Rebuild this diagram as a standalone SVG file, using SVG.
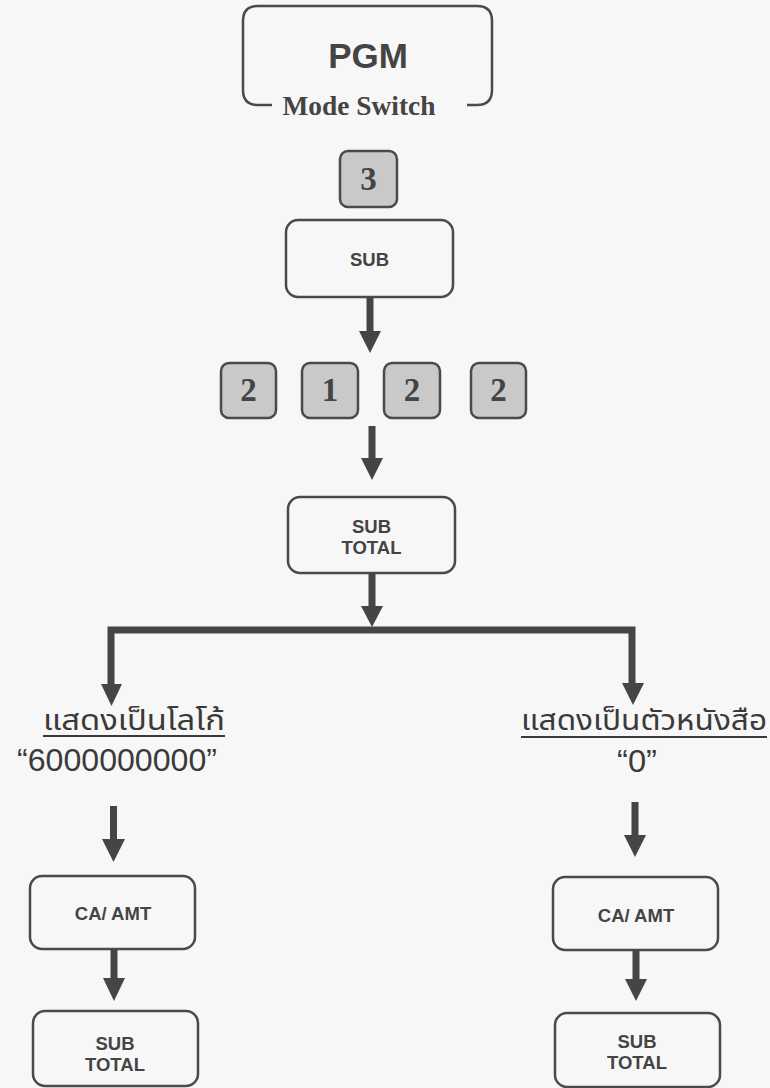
<svg xmlns="http://www.w3.org/2000/svg" width="770" height="1088" viewBox="0 0 770 1088">
<style>
.box{fill:none;stroke:#4a4a4a;stroke-width:2.5}
.key{fill:#c9c9c9;stroke:#4a4a4a;stroke-width:2.5}
.lbl{font-family:"Liberation Sans",Arial,sans-serif;font-weight:bold;font-size:18.5px;fill:#444;text-anchor:middle}
.dig{font-family:"Liberation Serif","Times New Roman",serif;font-weight:bold;font-size:33px;fill:#444;text-anchor:middle}
.shaft{stroke:#454545;stroke-width:7;fill:none}
.head{fill:#454545}
.th{font-family:"Noto Sans Thai","Noto Sans","DejaVu Sans",sans-serif;font-size:28.5px;fill:#3a3a3a}
.q{font-family:"Liberation Sans",Arial,sans-serif;font-size:32px;fill:#3a3a3a}
.ul{stroke:#3a3a3a;stroke-width:2}
</style>
<rect width="770" height="1088" fill="#f7f7f7"/>
<g id="pgm">
<path class="box" d="M272,105 L258,105 Q243,105 243,90 L243,21 Q243,6 258,6 L477,6 Q492,6 492,21 L492,90 Q492,105 477,105 L467,105"/>
<text x="368" y="68" font-family="Liberation Sans,Arial,sans-serif" font-weight="bold" font-size="35" fill="#444" text-anchor="middle">PGM</text>
<text x="359" y="115" font-family="Liberation Serif,Times New Roman,serif" font-weight="bold" font-size="27" fill="#444" text-anchor="middle" textLength="153" lengthAdjust="spacingAndGlyphs">Mode Switch</text>
</g>
<g id="key3"><rect class="key" x="340" y="151" width="57" height="56" rx="8"/><text class="dig" x="368.5" y="190">3</text></g>
<g id="sub"><rect class="box" x="286" y="220" width="167" height="77" rx="12"/><text class="lbl" x="369.5" y="266">SUB</text></g>
<g id="key2a"><rect class="key" x="221" y="363" width="55" height="55" rx="8"/><text class="dig" x="248.5" y="401">2</text></g>
<g id="key1"><rect class="key" x="302" y="363" width="56" height="55" rx="8"/><text class="dig" x="330" y="401">1</text></g>
<g id="key2b"><rect class="key" x="384" y="363" width="56" height="55" rx="8"/><text class="dig" x="412" y="401">2</text></g>
<g id="key2c"><rect class="key" x="471" y="363" width="55" height="55" rx="8"/><text class="dig" x="498.5" y="401">2</text></g>
<g id="subtotal"><rect class="box" x="288" y="497" width="167" height="76" rx="12"/><text class="lbl" x="371.5" y="533">SUB</text><text class="lbl" x="371.5" y="554">TOTAL</text></g>
<g id="logo">
<text class="th" x="43" y="730" textLength="182" lengthAdjust="spacingAndGlyphs">แสดงเป็นโลโก้</text>
<line class="ul" x1="43" y1="736" x2="225" y2="736"/>
<text class="q" x="117" y="771" text-anchor="middle" textLength="200" lengthAdjust="spacingAndGlyphs">“6000000000”</text>
</g>
<g id="letter">
<text class="th" x="521" y="730" textLength="246" lengthAdjust="spacingAndGlyphs">แสดงเป็นตัวหนังสือ</text>
<line class="ul" x1="521" y1="737" x2="767" y2="737"/>
<text class="q" x="637" y="772" text-anchor="middle" textLength="40" lengthAdjust="spacingAndGlyphs">“0”</text>
</g>
<g id="caamt1"><rect class="box" x="30" y="876" width="165" height="73" rx="12"/><text class="lbl" x="113" y="920">CA/ AMT</text></g>
<g id="subtotal1"><rect class="box" x="33" y="1011" width="165" height="75" rx="12"/><text class="lbl" x="115" y="1050">SUB</text><text class="lbl" x="115" y="1071">TOTAL</text></g>
<g id="caamt2"><rect class="box" x="553" y="877" width="165" height="73" rx="12"/><text class="lbl" x="636" y="922">CA/ AMT</text></g>
<g id="subtotal2"><rect class="box" x="555" y="1013" width="165" height="74" rx="12"/><text class="lbl" x="637" y="1048">SUB</text><text class="lbl" x="637" y="1069">TOTAL</text></g>
<g id="connectors">
<line class="shaft" x1="370" y1="297" x2="370" y2="333"/><polygon class="head" points="359,331 381,331 370,353"/>
<line class="shaft" x1="372" y1="426" x2="372" y2="460"/><polygon class="head" points="361,458 383,458 372,480"/>
<line class="shaft" x1="372" y1="573" x2="372" y2="608"/><polygon class="head" points="361,606 383,606 372,627"/>
<path class="shaft" d="M111,686 L111,630 L632,630 L632,685"/>
<polygon class="head" points="101,684 122,684 111.5,706"/>
<polygon class="head" points="622,683 644,683 633,705"/>
<line class="shaft" x1="113.5" y1="806" x2="113.5" y2="841"/><polygon class="head" points="102,839 125,839 113.5,862"/>
<line class="shaft" x1="114" y1="949" x2="114" y2="980"/><polygon class="head" points="103,978 125,978 114,1001"/>
<line class="shaft" x1="635" y1="802" x2="635" y2="837"/><polygon class="head" points="624,835 646,835 635,857"/>
<line class="shaft" x1="636" y1="950" x2="636" y2="981"/><polygon class="head" points="625,979 647,979 636,1001"/>
</g>
</svg>
